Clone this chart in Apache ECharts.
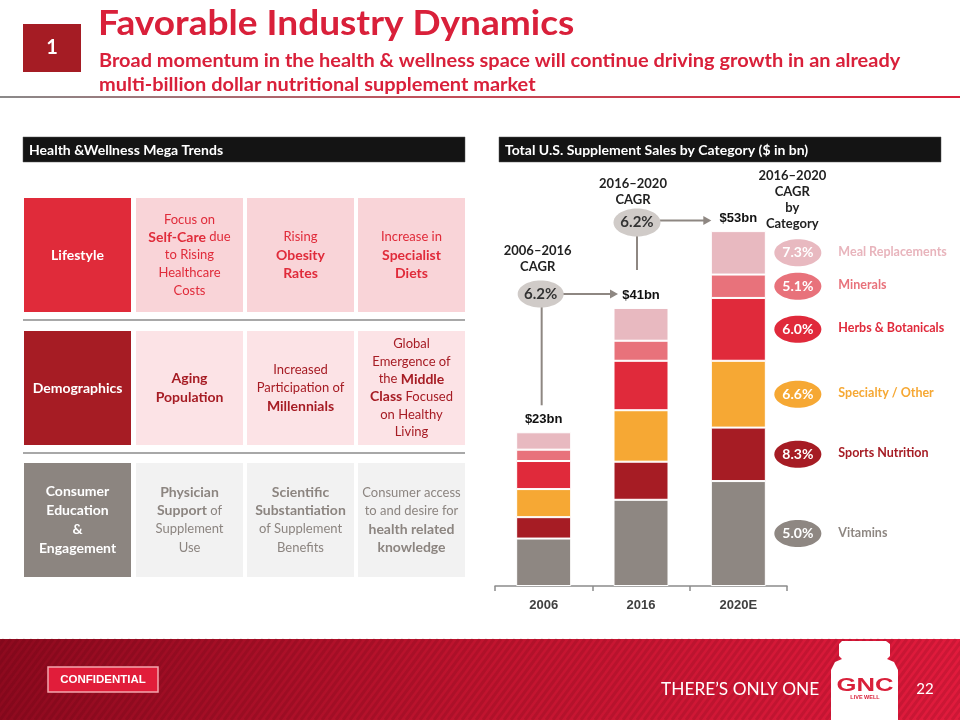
<!DOCTYPE html>
<html><head><meta charset="utf-8">
<script src="https://cdn.jsdelivr.net/npm/echarts@6/dist/echarts.min.js"></script>
<style>html,body{margin:0;padding:0;background:#fff}#main{width:960px;height:720px}</style>
</head><body><div id="main"></div>
<script>
// ---------- DATA ----------
const years = ['2006', '2016', '2020E'];
const vitamins = [7.1, 12.9, 15.7];
const sportsNutrition = [3.2, 5.7, 8.0];
const specialtyOther = [4.2, 7.7, 10.0];
const herbsBotanicals = [4.2, 7.4, 9.4];
const minerals = [1.7, 3.0, 3.5];
const mealReplacements = [2.6, 4.9, 6.5];
const totalLabels = ['$23bn', '$41bn', '$53bn'];
const seriesNames = ['Vitamins', 'Sports Nutrition', 'Specialty / Other', 'Herbs & Botanicals', 'Minerals', 'Meal Replacements'];
const categoryCagr = ['5.0%', '8.3%', '6.6%', '6.0%', '5.1%', '7.3%'];
const cagr2006to2016 = '6.2%';
const cagr2016to2020 = '6.2%';
const seriesValues = [vitamins, sportsNutrition, specialtyOther, herbsBotanicals, minerals, mealReplacements];

// ---------- STYLES ----------
const seriesColors = ['#8e8782', '#a61c24', '#f6a834', '#e02a3b', '#e8727b', '#e8b9c0'];
const labelColors = ['#8e8782', '#a61c24', '#f6a834', '#e02a3b', '#e8727b', '#e8b4bc'];
const CAL = 'Lato, "Open Sans", sans-serif';
const ARIAL = '"Liberation Sans", Arial, sans-serif';
const RED = '#d9203a';

const chart = echarts.init(document.getElementById('main'), null, {renderer: 'canvas'});

chart.setOption({
  animation: false,
  grid: {left: 495, right: 173, top: 185, bottom: 134},
  xAxis: {
    type: 'category', data: years,
    axisLine: {lineStyle: {color: '#8c8c8c', width: 1.5}},
    axisTick: {show: true, length: 5, lineStyle: {color: '#8c8c8c', width: 1.5}},
    axisLabel: {fontFamily: ARIAL, fontWeight: 'bold', fontSize: 13, color: '#404040', margin: 13}
  },
  yAxis: {type: 'value', min: 0, max: 60, show: false},
  series: seriesNames.map((n, i) => ({
    name: n, type: 'bar', stack: 'total', barWidth: 55, data: seriesValues[i],
    itemStyle: {color: seriesColors[i], borderColor: '#fff', borderWidth: 1},
    label: i === seriesNames.length - 1 ? {
      show: true, position: 'top', distance: 6,
      formatter: p => totalLabels[p.dataIndex],
      fontFamily: ARIAL, fontWeight: 'bold', fontSize: 13, color: '#111'
    } : {show: false}
  }))
});

// ---------- STATIC SLIDE GRAPHICS ----------
const g = [];
function txt(x, y, text, font, fill, align, extra) {
  const o = {type: 'text', x: x, y: y, z: 10, style: Object.assign({text: text, font: font, fill: fill,
    textAlign: align || 'left', textVerticalAlign: 'middle'}, extra || {})};
  g.push(o); return o;
}
// header
g.push({type: 'rect', shape: {x: 23, y: 24, width: 58, height: 48}, style: {fill: '#a51c24'}});
txt(52, 48, '1', 'bold 20px ' + CAL, '#fff', 'center');
const t1 = txt(98, 24, 'Favorable Industry Dynamics', 'bold 34px ' + CAL, RED);
t1.scaleX = 1.09; t1.originX = 0;
const s1 = txt(99, 61, 'Broad momentum in the health & wellness space will continue driving growth in an already', 'bold 19px ' + CAL, RED);
s1.scaleX = 1.05; s1.originX = 0;
const s2 = txt(99, 85, 'multi-billion dollar nutritional supplement market', 'bold 19px ' + CAL, RED);
s2.scaleX = 1.05; s2.originX = 0;
g.push({type: 'line', shape: {x1: 0, y1: 97, x2: 960, y2: 97},
  style: {lineWidth: 2, stroke: {type: 'linear', x: 0, y: 0, x2: 1, y2: 0,
    colorStops: [{offset: 0, color: '#8a8a8a'}, {offset: 0.45, color: '#c0505a'}, {offset: 1, color: '#d9203a'}]}}});

// section headers
g.push({type: 'rect', shape: {x: 23, y: 137, width: 442, height: 25}, style: {fill: '#141414', stroke: '#555', lineWidth: 0.5}});
txt(29, 150, 'Health &Wellness Mega Trends', 'bold 14px ' + CAL, '#fff');
g.push({type: 'rect', shape: {x: 499, y: 137, width: 442, height: 25}, style: {fill: '#141414', stroke: '#555', lineWidth: 0.5}});
txt(505, 150, 'Total U.S. Supplement Sales by Category ($ in bn)', 'bold 14px ' + CAL, '#fff');

// mega trends table
const colX = [24, 136, 247, 358];
const colW = 107;
const rows = [
  {y: 198, h: 114, head: '#e02b3a', cell: '#f9d4d8', ink: '#e02b3a', lh: [18, 17.7, 18.5, 18.5],
   texts: ['Lifestyle', 'Focus on\n{b|Self-Care} due\nto Rising\nHealthcare\nCosts', 'Rising\n{b|Obesity}\n{b|Rates}', 'Increase in\n{b|Specialist}\n{b|Diets}']},
  {y: 331, h: 114, head: '#a61c24', cell: '#fce3e6', ink: '#a61c24', lh: [18, 18.4, 18.4, 17.6],
   texts: ['Demographics', '{b|Aging}\n{b|Population}', 'Increased\nParticipation of\n{b|Millennials}', 'Global\nEmergence of\nthe {b|Middle}\n{b|Class} Focused\non Healthy\nLiving']},
  {y: 463, h: 114, head: '#8c8580', cell: '#f2f2f2', ink: '#8c8580', lh: [18.7, 18.4, 18.4, 18],
   texts: ['Consumer\nEducation\n&\nEngagement', '{b|Physician}\n{b|Support} of\nSupplement\nUse', '{b|Scientific}\n{b|Substantiation}\nof Supplement\nBenefits', 'Consumer access\nto and desire for\n{b|health related}\n{b|knowledge}']}
];
rows.forEach(r => {
  for (let c = 0; c < 4; c++) {
    g.push({type: 'rect', shape: {x: colX[c], y: r.y, width: colW, height: r.h}, style: {fill: c === 0 ? r.head : r.cell}});
    const cx = colX[c] + colW / 2, cy = r.y + r.h / 2;
    if (c === 0) {
      txt(cx, cy, r.texts[0], 'bold 14px ' + CAL, '#fff', 'center', {lineHeight: r.lh[0]});
    } else {
      txt(cx, cy, r.texts[c], '13px ' + CAL, r.ink, 'center', {lineHeight: r.lh[c],
        rich: {b: {font: 'bold 14px ' + CAL, fill: r.ink, lineHeight: r.lh[c]}}});
    }
  }
});
[320, 453].forEach(y => g.push({type: 'line', shape: {x1: 23, y1: y, x2: 465, y2: y}, style: {stroke: '#a8a8a8', lineWidth: 2}}));

// footer band
g.push({type: 'rect', shape: {x: 0, y: 639, width: 960, height: 81},
  style: {fill: {type: 'linear', x: 0, y: 0, x2: 1, y2: 0,
    colorStops: [{offset: 0, color: '#8e0a1f'}, {offset: 0.5, color: '#c0142f'}, {offset: 1, color: '#e11b3d'}]}}});
for (let sx = -70; sx < 960; sx += 7) {
  g.push({type: 'line', silent: true, shape: {x1: sx, y1: 720, x2: sx + 60, y2: 639},
    style: {stroke: 'rgba(60,0,10,0.13)', lineWidth: 3}});
}
g.push({type: 'rect', shape: {x: 48, y: 667, width: 110, height: 25}, style: {fill: '#e11d3a', stroke: '#f4a6ae', lineWidth: 1.5}});
txt(103, 680, 'CONFIDENTIAL', 'bold 11.5px ' + ARIAL, '#fff', 'center');
const tol = txt(661, 689, 'THERE\u2019S ONLY ONE', '18px ' + CAL, '#fff', 'left');
tol.scaleX = 0.96; tol.originX = 0;
g.push({type: 'polygon', z: 10, shape: {points: [[842, 641], [886, 641], [890, 644], [890, 656], [887, 659], [894, 662], [898, 670], [898, 720], [831, 720], [831, 670], [835, 662], [842, 659], [839, 656], [839, 644]]}, style: {fill: '#fff'}});
const gnc = txt(865, 686, 'GNC', '900 19px ' + ARIAL, '#d9203a', 'center');
gnc.scaleX = 1.35; gnc.originX = 0;
txt(865, 697, 'LIVE WELL', 'bold 5.5px ' + ARIAL, '#d9203a', 'center');
txt(925, 689, '22', '15px ' + CAL, '#fff', 'center');

// ---------- DATA-ANCHORED ANNOTATIONS ----------
const totals = years.map((_, j) => seriesValues.reduce((s, arr) => s + arr[j], 0));
const P = (j, v) => chart.convertToPixel({gridIndex: 0}, [j, v]);
const GREY = '#8e8782', BUB = '#d0cbc8';
const [c06, y23] = P(0, totals[0]);
const [c16, y41] = P(1, totals[1]);
const [c20, y53] = P(2, totals[2]);

function arrow(x1, y, xt) {
  g.push({type: 'line', z: 5, shape: {x1: x1, y1: y, x2: xt - 7, y2: y}, style: {stroke: GREY, lineWidth: 2}});
  g.push({type: 'polygon', z: 5, shape: {points: [[xt - 8, y - 4.5], [xt, y], [xt - 8, y + 4.5]]}, style: {fill: GREY}});
}
// 2006-2016
const e1x = c06 - 3, e1y = y41 - 14;
g.push({type: 'line', z: 5, shape: {x1: e1x + 1, y1: e1y + 12, x2: e1x + 1, y2: y23 - 27}, style: {stroke: GREY, lineWidth: 2}});
arrow(e1x + 22, e1y, c16 - 23);
g.push({type: 'ellipse', z: 6, shape: {cx: e1x, cy: e1y, rx: 23, ry: 13.5}, style: {fill: BUB}});
txt(e1x, e1y, cagr2006to2016, 'bold 15px ' + CAL, '#333', 'center');
txt(c06 - 6, y41 - 49, '2006\u20132016\nCAGR', 'bold 13px ' + CAL, '#222', 'center', {lineHeight: 16.6});
// 2016-2020
const e2x = c16 - 4, e2y = y53 - 8.5;
g.push({type: 'line', z: 5, shape: {x1: e2x, y1: e2y + 12, x2: e2x, y2: y41 - 38}, style: {stroke: GREY, lineWidth: 2}});
arrow(e2x + 23, e2y - 2, c20 - 27);
g.push({type: 'ellipse', z: 6, shape: {cx: e2x, cy: e2y, rx: 23.5, ry: 14}, style: {fill: BUB}});
txt(e2x, e2y, cagr2016to2020, 'bold 15px ' + CAL, '#333', 'center');
txt(c16 - 8, y53 - 39.5, '2016\u20132020\nCAGR', 'bold 13px ' + CAL, '#222', 'center', {lineHeight: 16.6});
txt(c20 + 54, y53 - 31, '2016\u20132020\nCAGR\nby\nCategory', 'bold 13px ' + CAL, '#222', 'center', {lineHeight: 16});

// per-category CAGR bubbles next to the 2020E bar
let cum = 0;
for (let i = 0; i < seriesNames.length; i++) {
  const v = seriesValues[i][2];
  const my = P(2, cum + v / 2)[1];
  cum += v;
  g.push({type: 'ellipse', z: 6, shape: {cx: c20 + 59.5, cy: my, rx: 23.5, ry: 13.5}, style: {fill: seriesColors[i]}});
  txt(c20 + 59.5, my, categoryCagr[i], 'bold 14px ' + CAL, '#fff', 'center');
  txt(c20 + 100, my - 1, seriesNames[i], 'bold 12.5px ' + CAL, labelColors[i], 'left');
}

chart.setOption({graphic: {elements: g}});
</script>
</body></html>
